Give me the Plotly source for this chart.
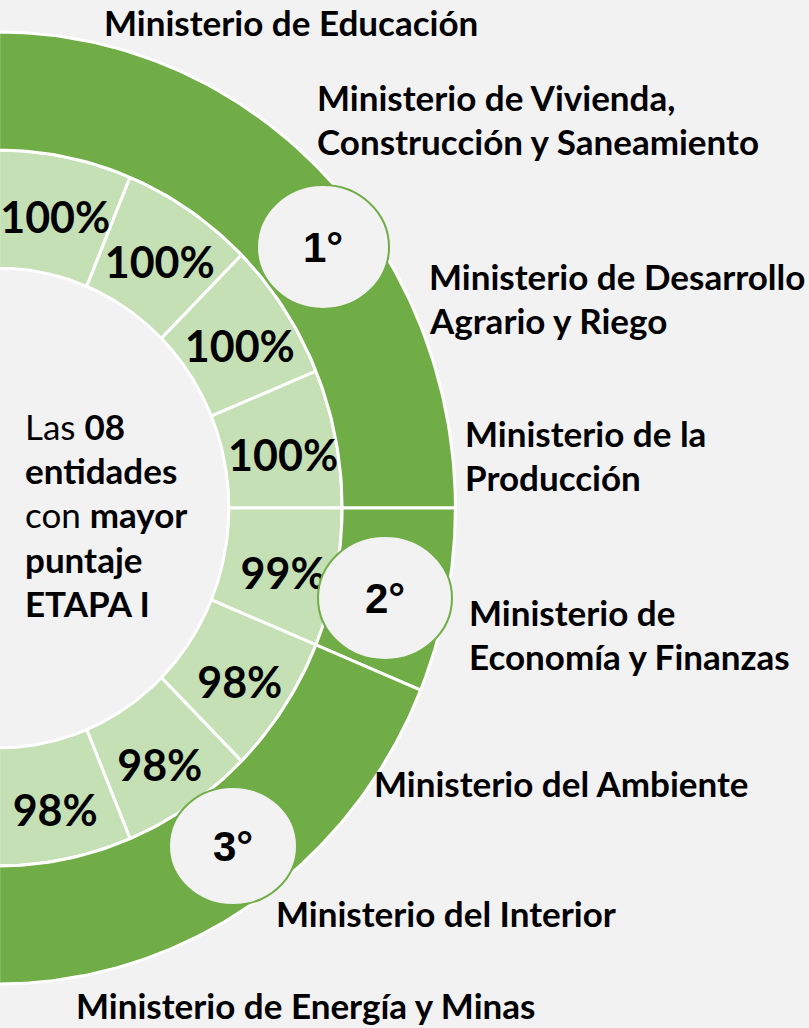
import numpy as np
import plotly.graph_objects as go

# ---------------- data ----------------
entities = [
    "Ministerio de Educación",
    "Ministerio de Vivienda,\nConstrucción y Saneamiento",
    "Ministerio de Desarrollo\nAgrario y Riego",
    "Ministerio de la\nProducción",
    "Ministerio de\nEconomía y Finanzas",
    "Ministerio del Ambiente",
    "Ministerio del Interior",
    "Ministerio de Energía y Minas",
]
scores = [100, 100, 100, 100, 99, 98, 98, 98]
ranks = [1, 1, 1, 1, 2, 3, 3, 3]
rank_labels = ["1°", "2°", "3°"]
center_lines = ["Las <b>08</b>", "<b>entidades</b>", "con <b>mayor</b>", "<b>puntaje</b>", "<b>ETAPA I</b>"]

# ---------------- layout constants ----------------
W, H = 809, 1028
CX_PX, CY_PX = 0, 508          # centre of the half-donut in pixels
RX_PX, RY_PX = 456, 476        # outer radii in pixels (slightly elliptical)
R_IN, R_MID, R_OUT = 0.504, 0.752, 1.0
LABEL_R = 0.635
LABEL_DY = -11 / RY_PX          # labels sit slightly below the geometric centre
DARK, LIGHT, BG = "#70ad47", "#c5e0b4", "#f2f2f2"
FONT = "Lato"

label_pos_px = [  # (left x, first line centre y)
    (102, 22), (315, 97), (427, 276), (463, 433),
    (467, 612), (372, 783), (274, 913), (74, 1005),
]
LINE_GAP = 44
badge_px = [  # centre x, centre y, rx, ry
    (323, 247, 66, 62),
    (385, 598, 67, 62),
    (233, 846, 64, 59),
]
center_text_px = (23, 426)
CENTER_GAP = 44.2

def wedge(a0, a1, r0, r1, n=90):
    t = np.radians(np.linspace(a0, a1, n))
    xo, yo = r1 * np.cos(t), r1 * np.sin(t)
    xi, yi = r0 * np.cos(t[::-1]), r0 * np.sin(t[::-1])
    x = np.concatenate([xo, xi, xo[:1]])
    y = np.concatenate([yo, yi, yo[:1]])
    return x, y

fig = go.Figure()

n = len(entities)
step = 180.0 / n
starts = [90 - i * step for i in range(n)]

# inner ring: one slice per entity
for i in range(n):
    x, y = wedge(starts[i], starts[i] - step, R_IN, R_MID)
    fig.add_trace(go.Scatter(x=x, y=y, mode="lines", fill="toself", fillcolor=LIGHT,
                             line=dict(color="white", width=3), hoverinfo="skip"))

# outer ring: one slice per rank group
for rk in sorted(set(ranks)):
    idx = [i for i, r in enumerate(ranks) if r == rk]
    a0 = starts[idx[0]]
    a1 = starts[idx[-1]] - step
    x, y = wedge(a0, a1, R_MID, R_OUT)
    fig.add_trace(go.Scatter(x=x, y=y, mode="lines", fill="toself", fillcolor=DARK,
                             line=dict(color="white", width=3), hoverinfo="skip"))

# percentage labels
mids = np.radians([s - step / 2 for s in starts])
fig.add_trace(go.Scatter(
    x=LABEL_R * np.cos(mids), y=LABEL_R * np.sin(mids) + LABEL_DY, mode="text",
    text=[f"{v}%" for v in scores], textposition="middle center",
    textfont=dict(family=FONT, size=43, color="black", weight="bold"),
    hoverinfo="skip"))

shapes = []
annotations = []
for (bx, by, rx, ry), lab in zip(badge_px, rank_labels):
    shapes.append(dict(type="circle", xref="paper", yref="paper",
                       x0=(bx - rx) / W, x1=(bx + rx) / W,
                       y0=1 - (by + ry) / H, y1=1 - (by - ry) / H,
                       fillcolor=BG, line=dict(color=DARK, width=2), layer="above"))
    annotations.append(dict(xref="paper", yref="paper", x=bx / W, y=1 - by / H,
                            text=f"<b>{lab}</b>", showarrow=False,
                            xanchor="center", yanchor="middle",
                            font=dict(family="Liberation Sans", size=42, color="black")))

for name, (lx, ly) in zip(entities, label_pos_px):
    for j, line in enumerate(name.split("\n")):
        annotations.append(dict(xref="paper", yref="paper", x=lx / W, y=1 - (ly + j * LINE_GAP) / H,
                                text=f"<b>{line}</b>", showarrow=False,
                                xanchor="left", yanchor="middle",
                                font=dict(family=FONT, size=35, color="black")))

tx, ty = center_text_px
for j, line in enumerate(center_lines):
    cy = ty + j * CENTER_GAP
    annotations.append(dict(xref="paper", yref="paper", x=tx / W, y=1 - cy / H,
                            text=line, showarrow=False, xanchor="left", yanchor="middle",
                            font=dict(family=FONT, size=35, color="black")))

fig.update_layout(
    width=W, height=H, margin=dict(l=0, r=0, t=0, b=0),
    paper_bgcolor=BG, plot_bgcolor=BG, showlegend=False,
    xaxis=dict(range=[(0 - CX_PX) / RX_PX + 0.003, (W - CX_PX) / RX_PX], visible=False),
    yaxis=dict(range=[-(H - CY_PX) / RY_PX, CY_PX / RY_PX], visible=False),
    shapes=shapes, annotations=annotations,
)

fig.write_html("out.html", config={"displayModeBar": False},
               post_script="document.body.style.margin='0px';document.body.style.background='#f2f2f2';")
